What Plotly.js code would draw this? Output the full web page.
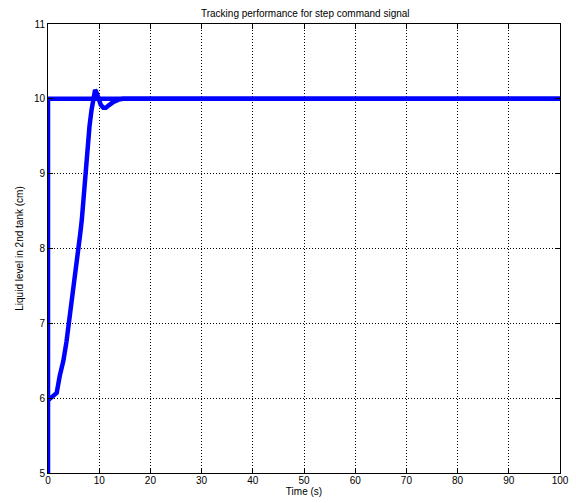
<!DOCTYPE html>
<html>
<head>
<meta charset="utf-8">
<script src="https://cdn.plot.ly/plotly-3.0.1.min.js"></script>
<style>html,body{margin:0;padding:0;background:#fff;}#chart{width:576px;height:503px;}</style>
</head>
<body>
<div id="chart"></div>
<script>
// Reference (command) signal
const refTime = [0, 0, 100];
const refLevel = [0, 10, 10];
// Liquid level response
const outTime = [0, 0.5, 1.7, 2.3, 3.0, 3.6, 4.1, 4.6, 5.0, 5.5, 5.9, 6.3, 6.6, 6.9, 7.2, 7.4, 7.8, 8.1, 8.5, 8.9, 9.2, 9.5, 9.8, 10.3, 10.8, 11.3, 12.0, 12.8, 13.8, 14.7, 20, 40, 60, 80, 100];
const outLevel = [5.97, 6.0, 6.07, 6.3, 6.5, 6.75, 7.0, 7.25, 7.45, 7.75, 8.0, 8.2, 8.38, 8.65, 8.9, 9.05, 9.35, 9.63, 9.85, 10.02, 10.12, 10.08, 10.0, 9.92, 9.88, 9.88, 9.92, 9.96, 9.99, 10.0, 10.0, 10.0, 10.0, 10.0, 10.0];

const font = {family: 'Liberation Sans, Arial, sans-serif', size: 10, color: '#000'};
const axisCommon = {
  showline: true, linecolor: '#000', linewidth: 1, mirror: 'ticks',
  ticks: 'inside', ticklen: 5, tickcolor: '#000', tickwidth: 1,
  showgrid: true, gridcolor: '#000', gridwidth: 1, griddash: '1px,2px',
  zeroline: false, tickfont: font
};
const data = [
  {x: refTime, y: refLevel, mode: 'lines', line: {color: '#0000ff', width: 4.5}, hoverinfo: 'skip'},
  {x: outTime, y: outLevel, mode: 'lines', line: {color: '#0000ff', width: 4.5}}
];
const layout = {
  width: 576, height: 503,
  margin: {l: 48, r: 16, t: 24, b: 30},
  paper_bgcolor: '#fff', plot_bgcolor: '#fff',
  showlegend: false,
  font: font,
  title: {text: 'Tracking performance for step command signal', font: font, x: 0.53, xanchor: 'center', y: 0.98, yanchor: 'top'},
  xaxis: Object.assign({}, axisCommon, {range: [0, 100], dtick: 10, tick0: 0, ticklabelstandoff: -2,
    title: {text: 'Time (s)', font: font, standoff: 2}}),
  yaxis: Object.assign({}, axisCommon, {range: [5, 11], dtick: 1, tick0: 5,
    title: {text: 'Liquid level in 2nd tank (cm)', font: font, standoff: 8}})
};
Plotly.newPlot('chart', data, layout, {displayModeBar: false, staticPlot: true});
</script>
</body>
</html>
